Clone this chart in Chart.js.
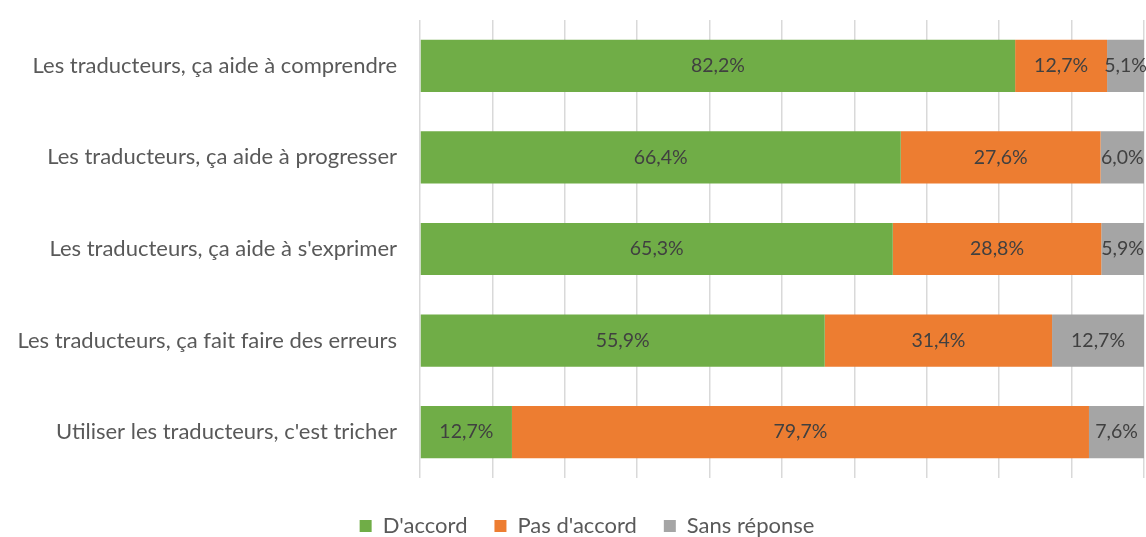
<!DOCTYPE html>
<html><head><meta charset="utf-8">
<script src="https://cdn.jsdelivr.net/npm/chart.js@4"></script>
<style>html,body{margin:0;padding:0;background:#fff}#c{display:block}</style>
</head><body>
<canvas id="c" width="1146" height="537"></canvas>
<script>
const categories = [
  "Les traducteurs, ça aide à comprendre",
  "Les traducteurs, ça aide à progresser",
  "Les traducteurs, ça aide à s'exprimer",
  "Les traducteurs, ça fait faire des erreurs",
  "Utiliser les traducteurs, c'est tricher"
];
const seriesNames = ["D'accord", "Pas d'accord", "Sans réponse"];
const daccord = [82.2, 66.4, 65.3, 55.9, 12.7];
const pasDaccord = [12.7, 27.6, 28.8, 31.4, 79.7];
const sansReponse = [5.1, 6.0, 5.9, 12.7, 7.6];
const colors = ["#70ad47", "#ed7d31", "#a5a5a5"];

const FONT = "Lato, 'Open Sans', sans-serif";

const segLabels = {
  id: 'segLabels',
  afterDatasetsDraw(chart) {
    const ctx = chart.ctx;
    ctx.save();
    ctx.font = "19.5px " + FONT;
    ctx.fillStyle = "#404040";
    ctx.textAlign = "center";
    ctx.textBaseline = "middle";
    chart.data.datasets.forEach((ds, i) => {
      const meta = chart.getDatasetMeta(i);
      meta.data.forEach((bar, j) => {
        const p = bar.getProps(['x', 'base', 'y'], true);
        const txt = ds.data[j].toFixed(1).replace('.', ',') + '%';
        ctx.fillText(txt, (p.x + p.base) / 2, p.y);
      });
    });
    ctx.restore();
  }
};

const shiftLegend = {
  id: 'shiftLegend',
  beforeDraw(chart) {
    if (chart.legend) { chart.legend.left = 28; chart.legend.right = chart.width; }
  }
};

const dataSets = [daccord, pasDaccord, sansReponse];
new Chart(document.getElementById('c'), {
  type: 'bar',
  data: {
    labels: categories,
    datasets: dataSets.map((d, i) => ({
      label: seriesNames[i],
      data: d,
      backgroundColor: colors[i],
      borderWidth: 0,
      barPercentage: 0.57,
      categoryPercentage: 1
    }))
  },
  options: {
    indexAxis: 'y',
    responsive: false,
    animation: false,
    devicePixelRatio: 1,
    layout: { padding: { left: 0, right: 2, top: 20, bottom: -10 } },
    scales: {
      x: {
        stacked: true, min: 0, max: 100,
        ticks: { display: false, stepSize: 10 },
        grid: { color: '#d9d9d9', lineWidth: 1.5, drawTicks: false },
        border: { display: false },
        afterFit(s) { s.height = 10; s.paddingLeft = 0; s.paddingRight = 0; }
      },
      y: {
        stacked: true,
        grid: { display: false },
        border: { display: false },
        ticks: { color: '#595959', font: { family: FONT, size: 22 }, padding: 15 },
        afterFit(s) { s.width = 420; s.paddingTop = 0; s.paddingBottom = 0; }
      }
    },
    plugins: {
      legend: {
        position: 'bottom',
        labels: { color: '#595959', font: { family: FONT, size: 22 }, boxWidth: 12, boxHeight: 12, padding: 27 }
      },
      tooltip: { enabled: false }
    }
  },
  plugins: [segLabels, shiftLegend]
});
</script>
</body></html>
